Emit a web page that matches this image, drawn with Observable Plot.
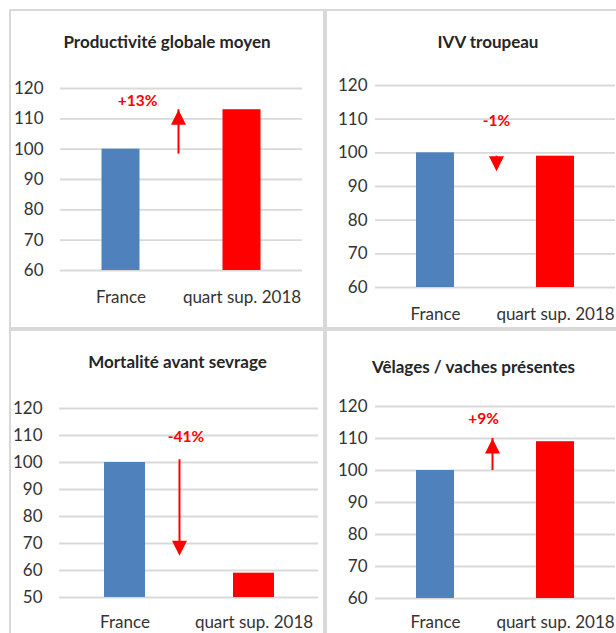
<!DOCTYPE html>
<html>
<head>
<meta charset="utf-8">
<script src="https://cdn.jsdelivr.net/npm/d3@7"></script>
<script src="https://cdn.jsdelivr.net/npm/@observablehq/plot@0.6"></script>
<style>
  html, body { margin: 0; padding: 0; background: #fff; }
  #root { position: relative; width: 616px; height: 633px; overflow: hidden; background: #fff; }
  .panel { position: absolute; box-sizing: border-box; border: 2px solid #d9d9d9; }
  .chart { position: absolute; }
  .title { position: absolute; transform: translateX(-50%); white-space: nowrap;
           font-family: Lato, sans-serif; font-weight: bold; font-size: 17px; line-height: 17px; color: #262626; }
</style>
</head>
<body>
<div id="root"></div>
<script>
// ---- data ----
const titles = ["Productivité globale moyen", "IVV troupeau", "Mortalité avant sevrage", "Vêlages / vaches présentes"];
const categories = ["France", "quart sup. 2018"];
const franceValues = [100, 100, 100, 100];
const quartValues = [113, 99, 59, 109];
const changeLabels = ["+13%", "-1%", "-41%", "+9%"];
const labelLevels = [116, 109.5, 109.3, 116];
const arrowFrom = [101, 99, 101, 102.5];
const arrowTo = [113, 94.5, 65.5, 110];
const yMin = [60, 60, 50, 60];
const yMax = [120, 120, 120, 120];
const yTicks60 = [60, 70, 80, 90, 100, 110, 120];
const yTicks50 = [50, 60, 70, 80, 90, 100, 110, 120];

// ---- layout (page coordinates) ----
const layout = [
  {box: [9, 9, 316, 320], svg: [9, 9, 316, 320], m: [79, 23, 59, 51], tp: 17, xtp: 20, inset: 41.5, arrowDx: 57.5, labelDx: 16.5, title: [167, 33]},
  {box: [325, 9, 330, 320], svg: [325, 9, 320, 320], m: [76, 30, 42, 50], tp: 8, xtp: 20, inset: 41, arrowDx: 61, labelDx: 61, title: [488, 33]},
  {box: [9, 329, 316, 330], svg: [9, 329, 316, 320], m: [79, 7, 52, 50], tp: 17, xtp: 18.5, inset: 44, arrowDx: 54.5, labelDx: 61, title: [177.5, 353]},
  {box: [325, 329, 330, 330], svg: [325, 329, 320, 320], m: [77, 30, 51, 50], tp: 8, xtp: 17.5, inset: 41, arrowDx: 57, labelDx: 48, title: [473.5, 358]}
];

const RED = "#ff0000", BLUE = "#4f81bd";
const upHead = {draw(ctx) { ctx.moveTo(0, 0); ctx.lineTo(-7.5, 15); ctx.lineTo(7.5, 15); ctx.closePath(); }};
const downHead = {draw(ctx) { ctx.moveTo(0, 0); ctx.lineTo(-7.5, -15); ctx.lineTo(7.5, -15); ctx.closePath(); }};

const root = document.getElementById("root");

titles.forEach((title, i) => {
  const L = layout[i];
  const box = document.createElement("div");
  box.className = "panel";
  Object.assign(box.style, {left: L.box[0] + "px", top: L.box[1] + "px", width: L.box[2] + "px", height: L.box[3] + "px"});
  root.appendChild(box);

  const ticks = yMin[i] === 50 ? yTicks50 : yTicks60;
  const up = arrowTo[i] > arrowFrom[i];
  const bars = [
    {cat: categories[0], value: franceValues[i]},
    {cat: categories[1], value: quartValues[i]}
  ];
  const ann = [{cat: categories[0], from: arrowFrom[i], to: arrowTo[i], label: changeLabels[i], level: labelLevels[i]}];

  const chart = Plot.plot({
    width: L.svg[2], height: L.svg[3],
    marginTop: L.m[0], marginRight: L.m[1], marginBottom: L.m[2], marginLeft: L.m[3],
    style: {fontFamily: "Lato, sans-serif", fontSize: "17px", color: "#333", background: "transparent", overflow: "visible"},
    x: {domain: categories, padding: 0, label: null, tickSize: 0, tickPadding: L.xtp},
    y: {domain: [yMin[i], yMax[i]], ticks: ticks, label: null, tickSize: 0, tickPadding: L.tp},
    marks: [
      Plot.ruleY(ticks, {stroke: "#d9d9d9", strokeWidth: 1.8}),
      Plot.barY(bars.filter(d => d.cat === categories[0]), {x: "cat", y1: yMin[i], y2: "value", fill: BLUE, insetLeft: L.inset, insetRight: L.inset}),
      Plot.barY(bars.filter(d => d.cat === categories[1]), {x: "cat", y1: yMin[i], y2: "value", fill: RED, insetLeft: L.inset, insetRight: L.inset}),
      Plot.ruleX(ann, {x: "cat", y1: "from", y2: "to", dx: L.arrowDx, stroke: RED, strokeWidth: 2,
                       insetTop: up ? 8 : 0, insetBottom: up ? 0 : 8}),
      Plot.dot(ann, {x: "cat", y: "to", dx: L.arrowDx, symbol: up ? upHead : downHead, fill: RED, stroke: "none"}),
      Plot.text(ann, {x: "cat", y: "level", text: "label", dx: L.labelDx, fill: RED, fontWeight: "bold", fontSize: 15.5})
    ]
  });
  chart.classList.add("chart");
  Object.assign(chart.style, {left: L.svg[0] + "px", top: L.svg[1] + "px"});
  root.appendChild(chart);

  const t = document.createElement("div");
  t.className = "title";
  t.textContent = title;
  Object.assign(t.style, {left: L.title[0] + "px", top: L.title[1] + "px"});
  root.appendChild(t);
});
</script>
</body>
</html>
